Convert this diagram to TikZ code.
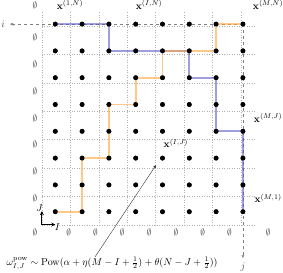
\documentclass[tikz,border=0pt]{standalone}
\usetikzlibrary{arrows.meta}
\definecolor{pathblue}{RGB}{80,80,195}
\definecolor{pathorange}{RGB}{255,165,60}
\begin{document}
\begin{tikzpicture}[x=26.8pt,y=26.8pt,
  dot/.style={circle,fill=black,inner sep=0pt,minimum size=4.8pt},
  gridline/.style={gray!60,dotted,line width=0.5pt},
  dashline/.style={gray,dashed,line width=0.5pt,-{Stealth[length=3.5pt,width=3pt]}},
  bluepath/.style={pathblue,line width=1.7pt,opacity=0.55},
  orangepath/.style={pathorange,line width=1.7pt,opacity=0.6},
  emp/.style={text=black!75,inner sep=0pt,font=\small},
  lbl/.style={inner sep=0pt},
  axis/.style={black,line width=0.9pt,-{Stealth[length=4pt,width=4pt]}}]
\useasboundingbox (-1.063,-1.25) rectangle (9.496,8.899);
% grid
\draw[gridline,shift={(0.5,0.5)}] (0,0) grid (8,8);
% dots
\foreach \i in {1,...,8}
  \foreach \j in {1,...,8}
    \node[dot] (d-\i-\j) at (\i,\j) {};
% dashed i/j lines
\coordinate (iend) at (-0.69,8);
\coordinate (jend) at (8,-0.73);
\node[lbl,text=black!70] (ilbl) at (-0.95,8) {$i$};
\node[lbl,text=black!70] (jlbl) at (8,-1.06) {$j$};
\draw[dashline] (d-8-8.center) -- (iend);
\draw[dashline] (d-8-8.center) -- (jend);
% paths
\draw[bluepath] (d-1-8.center) -- (d-2-8.center) -- (d-3-8.center) -- (d-3-7.center)
  -- (d-4-7.center) -- (d-5-7.center) -- (d-6-7.center) -- (d-6-6.center)
  -- (d-7-6.center) -- (d-7-5.center) -- (d-7-4.center) -- (d-8-4.center)
  -- (d-8-3.center) -- (d-8-2.center) -- (d-8-1.center);
\draw[orangepath] (d-1-1.center) -- (d-2-1.center) -- (d-2-2.center) -- (d-2-3.center)
  -- (d-3-3.center) -- (d-3-4.center) -- (d-3-5.center) -- (d-4-5.center)
  -- (d-4-6.center) -- (d-5-6.center) -- (d-5-7.center) -- (d-6-7.center)
  -- (d-7-7.center) -- (d-7-8.center) -- (d-8-8.center);
% redraw dots on top
\foreach \i in {1,...,8}
  \foreach \j in {1,...,8}
    \fill (d-\i-\j.center) circle (2.4pt);
% empty-set labels
\node[emp] (e-tl) at (0.24,8.71) {$\emptyset$};
\foreach \j in {1,...,7}
  \node[emp] (e-l-\j) at (0.24,\j+0.5) {$\emptyset$};
\node[emp] (e-bl) at (0.24,0.23) {$\emptyset$};
\foreach \i in {1,...,7}
  \node[emp] (e-b-\i) at (\i+0.5,0.23) {$\emptyset$};
\node[emp] (e-br) at (8.94,0.23) {$\emptyset$};
% point labels
\node[lbl] (l1N) at (1.55,8.71) {$\mathbf{x}^{(1,N)}$};
\node[lbl] (lIN) at (4.5,8.71) {$\mathbf{x}^{(I,N)}$};
\node[lbl] (lMN) at (8.94,8.71) {$\mathbf{x}^{(M,N)}$};
\node[lbl] (lMJ) at (8.94,4.5) {$\mathbf{x}^{(M,J)}$};
\node[lbl] (lM1) at (8.94,1.5) {$\mathbf{x}^{(M,1)}$};
\node[lbl] (lIJ) at (5.5,3.55) {$\mathbf{x}^{(I,J)}$};
% axes
\coordinate (ax) at (0.5,0.52);
\coordinate (axJ) at (0.5,1.02);
\coordinate (axI) at (1.0,0.52);
\draw[axis] (ax) -- (axJ);
\draw[axis] (ax) -- (axI);
\node[lbl] (Jlbl) at (0.42,1.12) {$J$};
\node[lbl] (Ilbl) at (1.08,0.43) {$I$};
% formula
\node[lbl] (formula) at (3.12,-0.93)
  {$\omega^{\mathrm{pow}}_{I,J}\sim\mathrm{Pow}(\alpha+\eta(M-I+\frac{1}{2})+\theta(N-J+\frac{1}{2}))$};
\coordinate (fstart) at (2.48,-0.69);
\coordinate (ftip) at (4.76,2.74);
\draw[black!80,line width=0.4pt,-{Stealth[length=3.5pt,width=3pt]}] (fstart) -- (ftip);
\end{tikzpicture}
\end{document}
